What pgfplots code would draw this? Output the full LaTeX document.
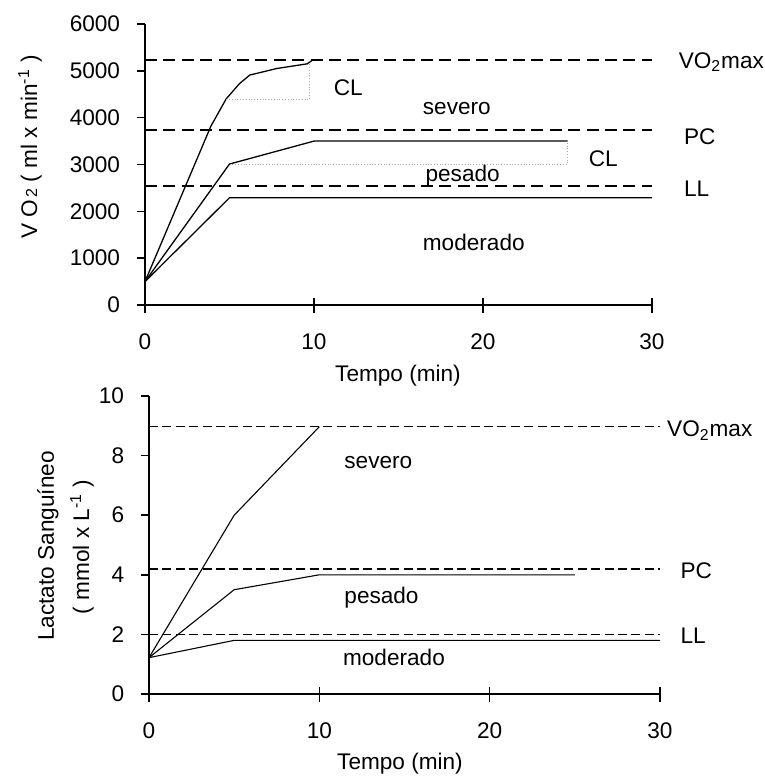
\documentclass[border=0pt]{standalone}
\usepackage{pgfplots}
\pgfplotsset{compat=1.18}
\usepackage{fontspec}
\setmainfont{Liberation Sans}
\begin{document}
\fontsize{11.3pt}{13.5pt}\selectfont
\begin{tikzpicture}
\path[use as bounding box] (0,0) rectangle (382.5pt,-388pt);
\pgfplotsset{
  myaxis/.style={
    scale only axis, anchor=south west, clip=false,
    axis x line*=bottom, axis y line*=left,
    axis line style={-, line width=0.8pt},
    xmin=0, xmax=30, xtick={0,10,20,30},
    /pgf/number format/assume math mode=true,
    every tick label/.append style={font=\fontsize{11.3pt}{13.5pt}\selectfont},
    x tick style={line width=0.8pt, black}, y tick style={line width=0.8pt, black},
    xtick align=center, ytick align=outside,
    major tick length=7.5pt,
    ytick style={/pgfplots/major tick length=4pt},
    yticklabel style={anchor=east, xshift=-1pt},
    xticklabel style={anchor=center, yshift=-14.5pt},
    /pgf/number format/1000 sep={},
    tick label style={black},
  },
}
% ---------------- top plot ----------------
\begin{axis}[myaxis,
  at={(72.5pt,-152.5pt)}, width=253.5pt, height=140.5pt,
  ymin=0, ymax=6000, ytick={0,1000,2000,3000,4000,5000,6000},
]
\addplot[black, line width=1pt, dash pattern=on 6pt off 3.2pt] coordinates {(0,5230) (30,5230)};
\addplot[black, line width=1pt, dash pattern=on 6pt off 3.2pt] coordinates {(0,3745) (30,3745)};
\addplot[black, line width=1pt, dash pattern=on 6pt off 3.2pt] coordinates {(0,2540) (30,2540)};
\addplot[black, line width=0.65pt] coordinates {(0,500) (5,2290) (30,2290)};
\addplot[black, line width=0.65pt] coordinates {(0,500) (5,3010) (10,3500) (25,3500)};
\addplot[black, line width=0.65pt] coordinates {(0,500) (3.9,3820) (4.8,4400) (5.6,4730) (6.2,4910) (7.8,5050) (9.6,5150) (9.9,5225)};
\addplot[gray!70, line width=0.4pt, densely dotted] coordinates {(4.8,4392) (9.73,4392) (9.73,5160)};
\addplot[gray!70, line width=0.4pt, densely dotted] coordinates {(5,3010) (25,3010) (25,3500)};
\node[anchor=base west, inner sep=0pt] at (axis cs:31.56,5054) {VO\textsubscript{2}max};
\node[anchor=base west, inner sep=0pt] at (axis cs:31.87,3431) {PC};
\node[anchor=base west, inner sep=0pt] at (axis cs:31.87,2327) {LL};
\node[anchor=base west, inner sep=0pt] at (axis cs:26.24,2953) {CL};
\node[anchor=base west, inner sep=0pt] at (axis cs:11.15,4463) {CL};
\node[anchor=base west, inner sep=0pt] at (axis cs:16.42,4072) {severo};
\node[anchor=base west, inner sep=0pt] at (axis cs:16.58,2633) {pesado};
\node[anchor=base west, inner sep=0pt] at (axis cs:16.42,1174) {moderado};
\end{axis}
% ---------------- bottom plot ----------------
\begin{axis}[myaxis,
  at={(74.5pt,-347pt)}, width=255.5pt, height=149pt,
  ymin=0, ymax=10, ytick={0,2,4,6,8,10},
]
\addplot[black, line width=0.75pt, dash pattern=on 4.5pt off 2.2pt] coordinates {(0,8.97) (30,8.97)};
\addplot[black, line width=0.75pt, dash pattern=on 4.5pt off 2.2pt] coordinates {(0,4.19) (30,4.19)};
\addplot[black, line width=0.75pt, dash pattern=on 4.5pt off 2.2pt] coordinates {(0,2.0) (30,2.0)};
\addplot[black, line width=0.55pt] coordinates {(0,1.22) (5,1.8) (30,1.8)};
\addplot[black, line width=0.55pt] coordinates {(0,1.22) (5,3.5) (10,4.0) (25,4.0)};
\addplot[black, line width=0.55pt] coordinates {(0,1.22) (5,6.0) (10,8.97)};
\node[anchor=base west, inner sep=0pt] at (axis cs:30.4,8.63) {VO\textsubscript{2}max};
\node[anchor=base west, inner sep=0pt] at (axis cs:31.18,3.88) {PC};
\node[anchor=base west, inner sep=0pt] at (axis cs:31.18,1.68) {LL};
\node[anchor=base west, inner sep=0pt] at (axis cs:11.45,7.57) {severo};
\node[anchor=base west, inner sep=0pt] at (axis cs:11.45,3.04) {pesado};
\node[anchor=base west, inner sep=0pt] at (axis cs:11.37,0.97) {moderado};
\end{axis}
% axis titles
\node[rotate=90] at (15pt,-73.5pt) {V O{\footnotesize\,2} ( ml x min\textsuperscript{-1} )};
\node at (199pt,-188pt) {Tempo (min)};
\node[rotate=90] at (24pt,-273pt) {Lactato Sanguíneo};
\node[rotate=90] at (41pt,-273.5pt) {( mmol x L\textsuperscript{-1} )};
\node at (200pt,-382pt) {Tempo (min)};
\end{tikzpicture}
\end{document}
